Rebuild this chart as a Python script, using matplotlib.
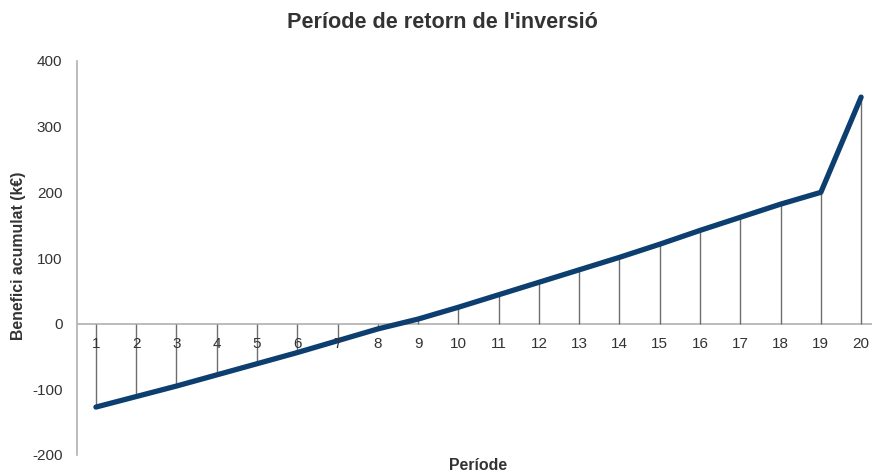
import matplotlib
matplotlib.use("Agg")
import matplotlib.pyplot as plt

plt.rcParams['font.family'] = ['Liberation Sans', 'DejaVu Sans']

periods = list(range(1, 21))
period_labels = [str(p) for p in periods]
cumulative_profit = [-127, -111, -95, -78, -61, -44, -26, -8, 7, 25,
                     44, 63, 82, 101, 121, 142, 162, 182, 200, 345]
y_ticks = [-200, -100, 0, 100, 200, 300, 400]

fig = plt.figure(figsize=(8.72, 4.74), dpi=100)
ax = fig.add_axes([77 / 872, 19 / 474, 1 - 77 / 872, 394 / 474])

line_color = '#0c3f6f'
text_color = '#333333'

# vertical drop lines from each point to zero
ax.vlines(periods, 0, cumulative_profit, colors='#6e6e6e', linewidth=1.0, zorder=2)
ax.axhline(0, color='#b0b0b0', linewidth=1.2, zorder=1)
ax.plot(periods, cumulative_profit, color=line_color, linewidth=3.8,
        solid_capstyle='round', solid_joinstyle='round', zorder=3)

ax.set_xlim(0.53, 20.27)
ax.set_ylim(-200, 400)
ax.set_yticks(y_ticks)
ax.set_yticklabels([str(v) for v in y_ticks], fontsize=11, color=text_color)
ax.tick_params(axis='y', length=0, pad=10.5)

# category labels sit just under the zero line
ax.set_xticks([])
for p, lab in zip(periods, period_labels):
    ax.text(p, -31, lab, ha='center', va='center', fontsize=11, color=text_color, zorder=4)

for side in ['top', 'right', 'bottom']:
    ax.spines[side].set_visible(False)
ax.spines['left'].set_color('#b0b0b0')
ax.spines['left'].set_linewidth(1.2)

fig.text(442 / 872, 1 - 22 / 474, "Període de retorn de l'inversió", ha='center', va='center',
         fontsize=15.6, fontweight='bold', color=text_color)
fig.text(478 / 872, 1 - 466 / 474, 'Període', ha='center', va='center',
         fontsize=11.4, fontweight='bold', color=text_color)
fig.text(18 / 872, 1 - 256 / 474, 'Benefici acumulat (k€)', ha='center', va='center',
         rotation=90, fontsize=11.4, fontweight='bold', color=text_color)

fig.savefig('out.png', dpi=100)
